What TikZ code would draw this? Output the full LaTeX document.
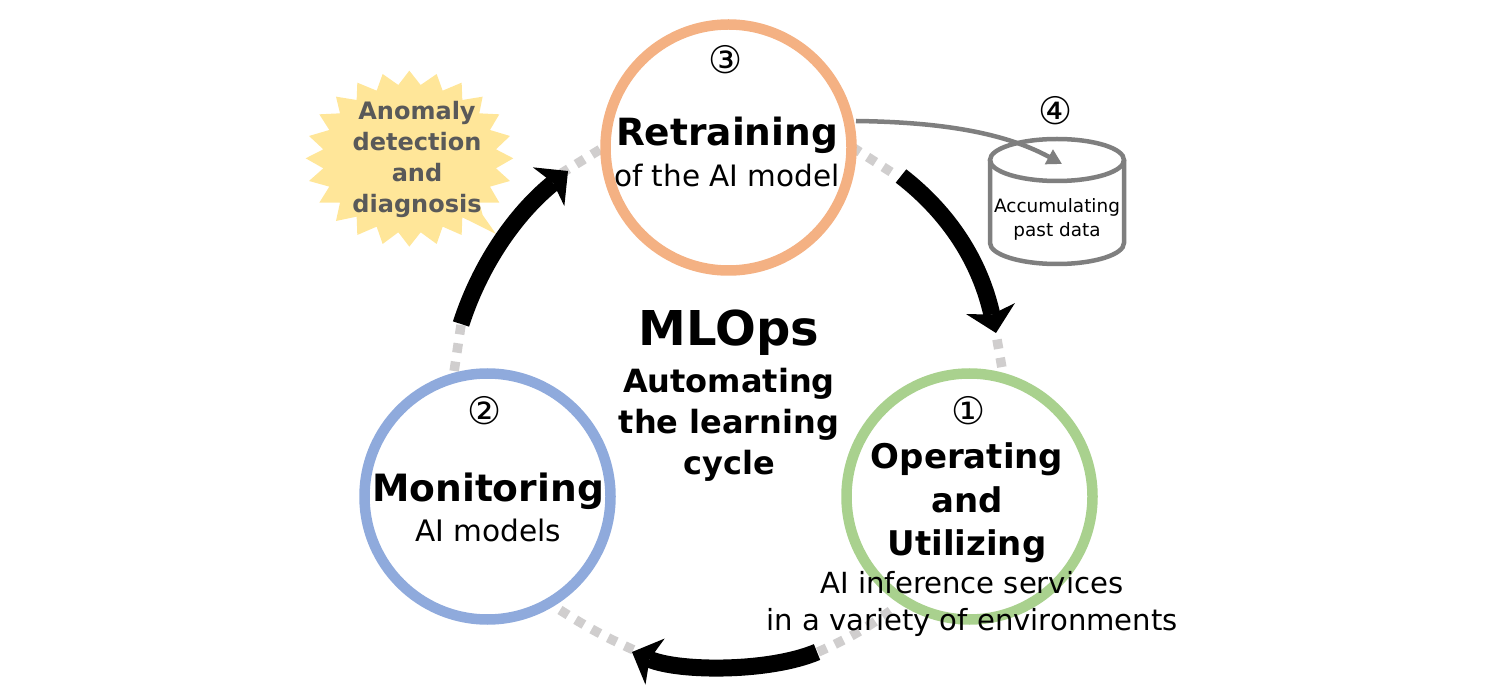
\documentclass[tikz,border=0pt]{standalone}
\usepackage{fontspec}
\setmainfont{DejaVu Sans}
\usetikzlibrary{arrows.meta,calc}
\definecolor{orangeR}{HTML}{F4B183}
\definecolor{blueR}{HTML}{8FAADC}
\definecolor{greenR}{HTML}{A9D18E}
\definecolor{dotR}{HTML}{D0CECE}
\definecolor{starR}{HTML}{FFE699}
\definecolor{grayR}{HTML}{7F7F7F}
\definecolor{starT}{HTML}{595959}
\tikzset{
  x=1pt,y=-1pt,
  ring/.style={circle,draw=#1,line width=10.5pt,minimum size=246pt,inner sep=0pt,outer sep=0pt},
  dots/.style={draw=dotR,line width=9.5pt,dash pattern=on 9.5pt off 9pt},
  bigarrow/.style={draw=black,line width=17pt,-{Stealth[length=25pt,width=50pt,inset=6pt,line width=0pt]}},
  grayarrow/.style={draw=grayR,line width=4.5pt,-{Triangle[length=15pt,width=16pt]}},
  lbl/.style={align=center,inner sep=0pt,text=black},
  fs/.style={font=\fontsize{#1}{#1}\selectfont},
}
\begin{document}
\begin{tikzpicture}
\useasboundingbox (0,0) rectangle (1500,700);
% star
\begin{scope}[shift={(290,50)},x=0.3333pt,y=-0.3333pt]
\fill[starR] (358,62)--(392,105)--(440,72)--(458,122)--(515,98)--(517,150)--(578,140)--(568,190)--(628,193)--(600,240)--(660,258)--(618,298)--(670,325)--(618,355)--(660,393)--(600,410)--(628,458)--(568,458)--(578,495)--(618,552)--(517,502)--(515,555)--(458,530)--(440,582)--(392,547)--(358,590)--(325,547)--(278,582)--(260,530)--(202,555)--(200,500)--(138,513)--(150,458)--(88,458)--(118,410)--(57,393)--(100,355)--(47,325)--(100,298)--(57,258)--(118,240)--(88,193)--(150,190)--(138,140)--(200,150)--(202,98)--(260,122)--(278,72)--(325,105)--cycle;
\end{scope}
% dotted ring pieces
\coordinate (d1a) at (600,149.5); \coordinate (d1b) at (561,173.5);
\coordinate (d2a) at (461,325); \coordinate (d2b) at (454,372);
\coordinate (d3a) at (852,147); \coordinate (d3b) at (891,172);
\coordinate (d4a) at (997,339.5); \coordinate (d4b) at (1002,368);
\coordinate (d5a) at (560,610); \coordinate (d5b) at (636,651);
\coordinate (d6a) at (818,652); \coordinate (d6b) at (893,609);
\draw[dots] (d1a) -- (d1b);
\draw[dots] (d2a) -- (d2b);
\draw[dots] (d3a) -- (d3b);
\draw[dots] (d4a) -- (d4b);
\draw[dots] (d5a) to[bend right=4] (d5b);
\draw[dots] (d6a) to[bend right=6] (d6b);
% circles
\node[ring=orangeR] (c3) at (728.5,147.5) {};
\node[ring=blueR] (c2) at (487.5,496.5) {};
\node[ring=greenR] (c1) at (969.5,496.5) {};
% arrows
\coordinate (a1s) at (901,176); \coordinate (a1e) at (996,333);
\coordinate (a2s) at (817,652); \coordinate (a2e) at (632,652);
\coordinate (a3s) at (461,324); \coordinate (a3e) at (568,171);
\draw[bigarrow] (a1s) .. controls (950,214) and (980,262) .. (a1e);
\draw[bigarrow] (a2s) .. controls (770,672) and (680,672) .. (a2e);
\draw[bigarrow] (a3s) .. controls (480,265) and (515,214) .. (a3e);
% cylinder
\path[draw=grayR,line width=4.5pt,fill=white]
  (990,160) -- (990,243) arc[start angle=180,end angle=360,x radius=67,y radius=-21] -- (1124,160);
\draw[grayR,line width=4.5pt] (1057,160) ellipse[x radius=67,y radius=21];
\coordinate (gs) at (856,121); \coordinate (ge) at (1062,164);
\draw[grayarrow] (gs) .. controls (930,122) and (1000,130) .. (ge);
% texts
\node[lbl,fs=38] (n3) at (726,60) {③};
\node[lbl,fs=38] (n2) at (485,411) {②};
\node[lbl,fs=38] (n1) at (969,411) {①};
\node[lbl,fs=38] (n4) at (1056,111) {④};
\node[lbl,font=\bfseries\fontsize{37.5}{37.5}\selectfont] (t3) at (727,135) {Retraining};
\node[lbl,fs=29.5] (s3) at (727,176) {of the AI model};
\node[lbl,font=\bfseries\fontsize{37.6}{37.6}\selectfont] (t2) at (488,491) {Monitoring};
\node[lbl,fs=29.6] (s2) at (488,530) {AI models};
\node[lbl,font=\bfseries\fontsize{34}{43.5}\selectfont] (t1) at (967,503) {Operating\\and\\Utilizing};
\node[lbl,font=\fontsize{29.1}{36.5}\selectfont] (s1) at (972,604) {AI inference services\\in a variety of environments};
\node[lbl,font=\bfseries\fontsize{48}{48}\selectfont] (m) at (729,333) {MLOps};
\node[lbl,font=\bfseries\fontsize{32}{41}\selectfont] (ms) at (729,425) {Automating\\the learning\\cycle};
\node[lbl,font=\bfseries\fontsize{24}{31}\selectfont,text=starT] (an) at (417,159) {Anomaly\\detection\\and\\diagnosis};
\node[lbl,font=\fontsize{18.4}{24}\selectfont] (ac) at (1057,219) {Accumulating\\past data};
\end{tikzpicture}
\end{document}
